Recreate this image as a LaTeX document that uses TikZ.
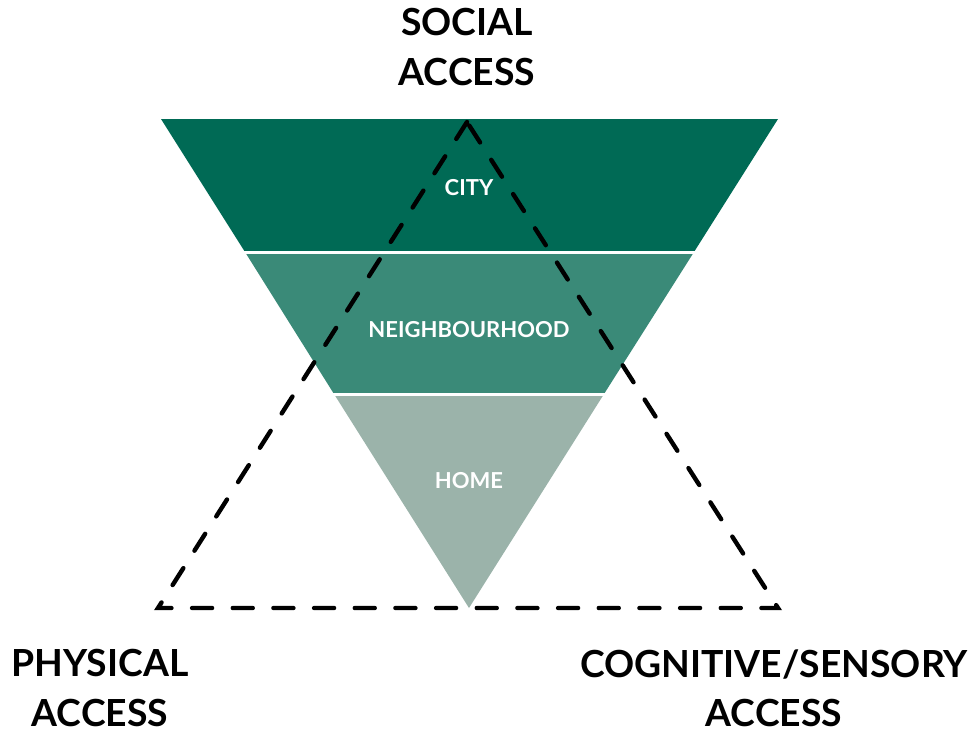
\documentclass[tikz,border=0pt]{standalone}
\usepackage{fontspec}
\setmainfont{Lato}
\usepackage{xcolor}

\definecolor{citygreen}{RGB}{0,106,85}
\definecolor{hoodgreen}{RGB}{58,138,120}
\definecolor{homegreen}{RGB}{155,179,170}

\begin{document}
\begin{tikzpicture}[x=0.75pt,y=0.75pt,yscale=-1,xscale=1,
  bandlabel/.style={text=white,font=\bfseries\fontsize{16.5}{20}\selectfont,inner sep=0.75pt},
  accesslabel/.style={font=\bfseries\fontsize{28}{37}\selectfont,align=center,inner sep=0.75pt},
  accessline/.style={line width=3.3pt,line cap=round,dash pattern=on 15pt off 15.5pt}]
%set diagram to 974 x 733
\useasboundingbox (0,0) rectangle (974,733);

%Shape: Bands of the inverted triangle
\fill [citygreen] (161,119) -- (778,119) -- (694,252) -- (245,252) -- cycle ;
\fill [hoodgreen] (245,252) -- (694,252) -- (604,394) -- (334,394) -- cycle ;
\fill [homegreen] (334,394) -- (604,394) -- (469,608) -- cycle ;
%white gaps between bands
\draw [white,line width=2.5] (240,252.5) -- (700,252.5) ;
\draw [white,line width=2.5] (328,394.5) -- (610,394.5) ;

% Text Node
\node [bandlabel] (city) at (469,188) {CITY};
% Text Node
\node [bandlabel] (hood) at (469,330) {NEIGHBOURHOOD};
% Text Node
\node [bandlabel] (home) at (469,481) {HOME};

%Shape: dashed triangle
\coordinate (social) at (467,122);
\coordinate (physical) at (158,608);
\coordinate (cognitive) at (778,608);
\draw [accessline] (social) -- (physical) -- (cognitive) -- cycle ;

% Text Node
\node [accesslabel] (socialtxt) at (467,47) {SOCIAL\\ACCESS};
% Text Node
\node [accesslabel] (physicaltxt) at (100,688) {PHYSICAL\\ACCESS};
% Text Node
\node [accesslabel] (cognitivetxt) at (774,688) {COGNITIVE/SENSORY\\ACCESS};

\end{tikzpicture}
\end{document}
